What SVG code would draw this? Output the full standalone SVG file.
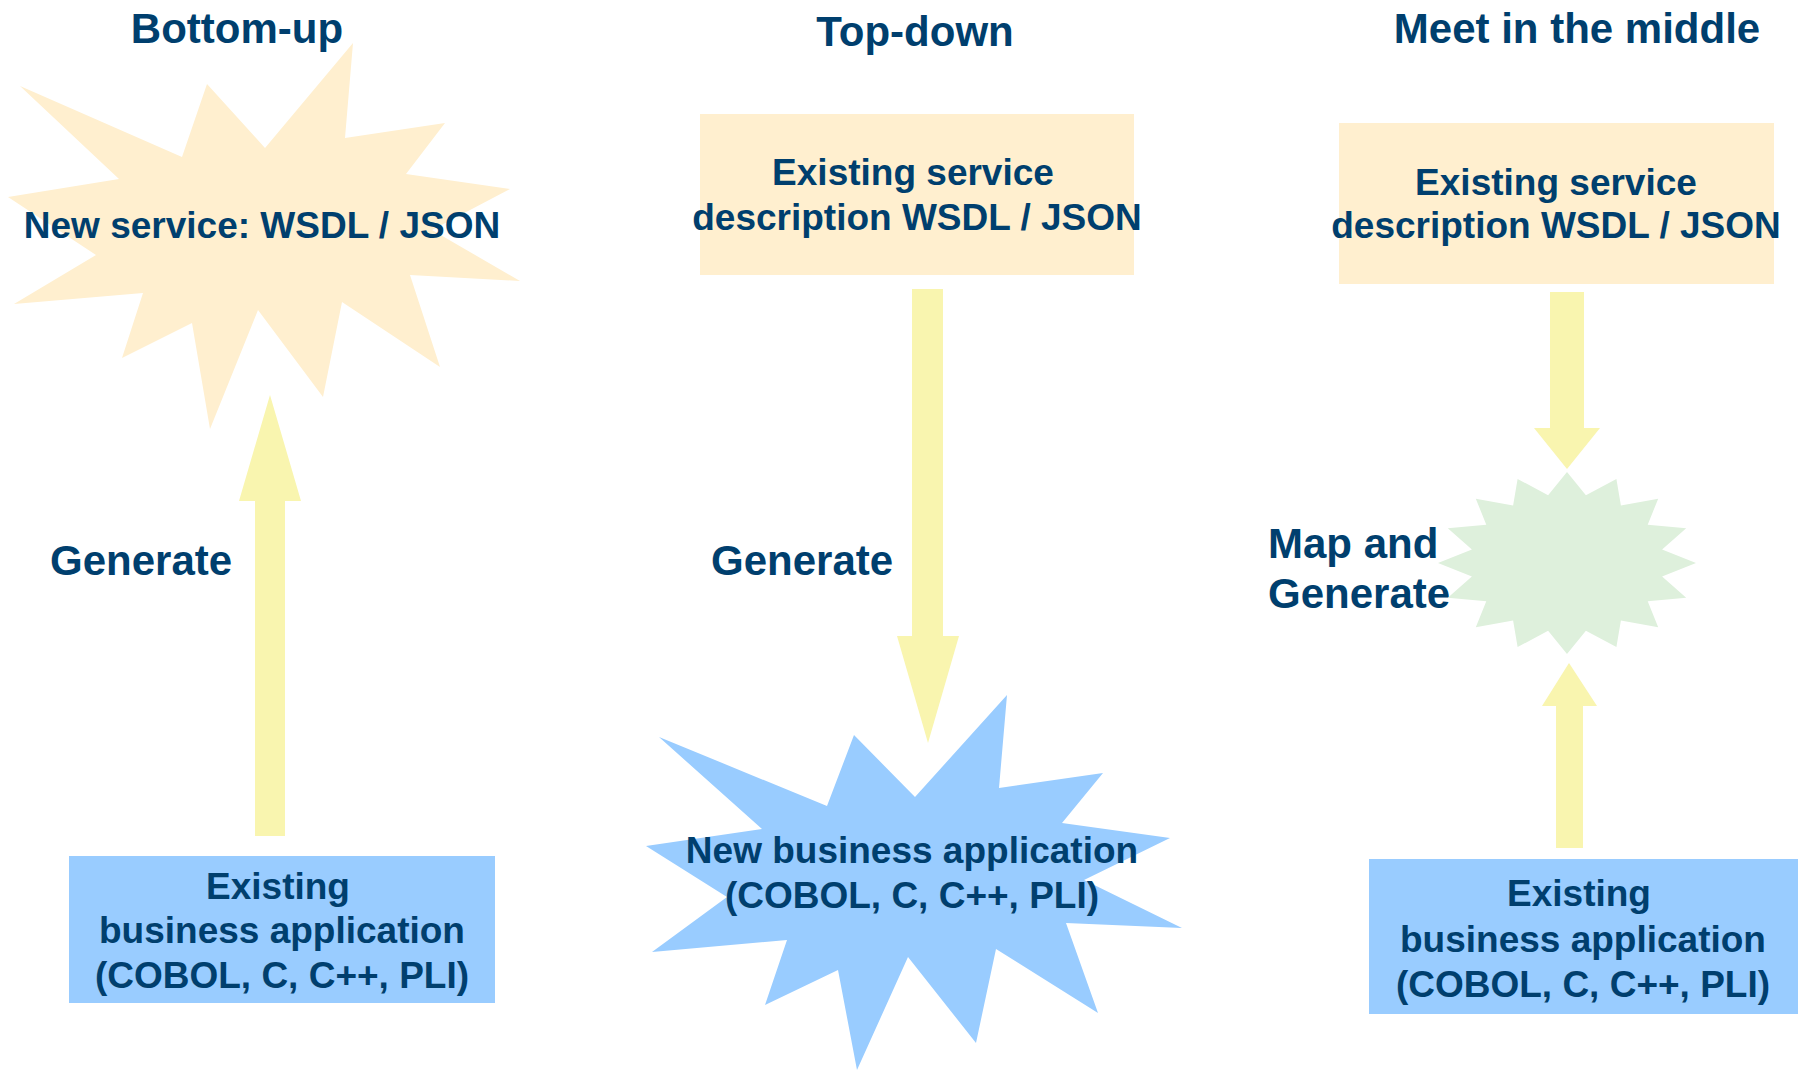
<svg xmlns="http://www.w3.org/2000/svg" width="1801" height="1071" viewBox="0 0 1801 1071">
<style>
text{font-family:"Liberation Sans",Arial,Helvetica,sans-serif;font-weight:bold;fill:#003F6E;text-anchor:middle}
.t{font-size:42px}
.b{font-size:37px}
.lab{font-size:42px;text-anchor:start}
.peach{fill:#FFEFCF}
.blue{fill:#99CCFF}
.green{fill:#DEF0DC}
.arrow{fill:#F9F5AF}
</style>
<rect width="1801" height="1071" fill="#FFFFFF"/>
<g id="titles">
<text class="t" x="237" y="43">Bottom-up</text>
<text class="t" x="915" y="46">Top-down</text>
<text class="t" x="1577" y="43">Meet in the middle</text>
</g>
<g id="connectors">
<polygon class="arrow" points="255,836 285,836 285,501 301,501 270,395 239,501 255,501"/>
<polygon class="arrow" points="912,289 943,289 943,636 959,636 928,743 897,636 912,636"/>
<polygon class="arrow" points="1550,292 1584,292 1584,428 1600,428 1567,469 1534,428 1550,428"/>
<polygon class="arrow" points="1556,848 1583,848 1583,706 1597,706 1569,663 1542,706 1556,706"/>
<text class="lab" x="50" y="575">Generate</text>
<text class="lab" x="711" y="575">Generate</text>
<text class="lab" x="1268" y="558">Map and</text>
<text class="lab" x="1268" y="608">Generate</text>
</g>
<g id="node-new-service">
<polygon class="peach" points="353,43 345,138 445,123 406,174 510,189 432,230 520,281 410,275 440,367 342,302 323,397 258,310 210,429 192,323 122,358 143,293 14,304 96,255 8,197 119,179 20,86 182,157 207,84 265,148"/>
<text class="b" x="262" y="238">New service: WSDL / JSON</text>
</g>
<g id="node-existing-app-left">
<rect class="blue" x="69" y="856" width="426" height="147"/>
<text class="b" x="278" y="899">Existing</text>
<text class="b" x="282" y="943">business application</text>
<text class="b" x="282" y="988">(COBOL, C, C++, PLI)</text>
</g>
<g id="node-existing-service-mid">
<rect class="peach" x="700" y="114" width="434" height="161"/>
<text class="b" x="913" y="185">Existing service</text>
<text class="b" x="917" y="230">description WSDL / JSON</text>
</g>
<g id="node-new-app">
<polygon class="blue" points="1007,695 999,788 1103,773 1062,823 1170,838 1084,880 1182,928 1066,923 1098,1013 996,949 976,1043 908,957 857,1070 838,970 765,1005 787,940 652,952 727,897 646,846 762,829 659,737 827,806 854,735 915,797"/>
<text class="b" x="912" y="863">New business application</text>
<text class="b" x="912" y="908">(COBOL, C, C++, PLI)</text>
</g>
<g id="node-existing-service-right">
<rect class="peach" x="1339" y="123" width="435" height="161"/>
<text class="b" x="1556" y="195">Existing service</text>
<text class="b" x="1556" y="238">description WSDL / JSON</text>
</g>
<g id="node-map">
<polygon class="green" transform="translate(1567,563)" points="0,-91 18.9,-67.7 49.4,-84.1 53.9,-57.4 91.2,-64.3 80.7,-38.3 119.2,-34.8 95.1,-13.5 129,0 95.1,13.5 119.2,34.8 80.7,38.3 91.2,64.3 53.9,57.4 49.4,84.1 18.9,67.7 0,91 -18.9,67.7 -49.4,84.1 -53.9,57.4 -91.2,64.3 -80.7,38.3 -119.2,34.8 -95.1,13.5 -129,0 -95.1,-13.5 -119.2,-34.8 -80.7,-38.3 -91.2,-64.3 -53.9,-57.4 -49.4,-84.1 -18.9,-67.7"/>
</g>
<g id="node-existing-app-right">
<rect class="blue" x="1369" y="859" width="429" height="155"/>
<text class="b" x="1579" y="906">Existing</text>
<text class="b" x="1583" y="952">business application</text>
<text class="b" x="1583" y="997">(COBOL, C, C++, PLI)</text>
</g>
</svg>
